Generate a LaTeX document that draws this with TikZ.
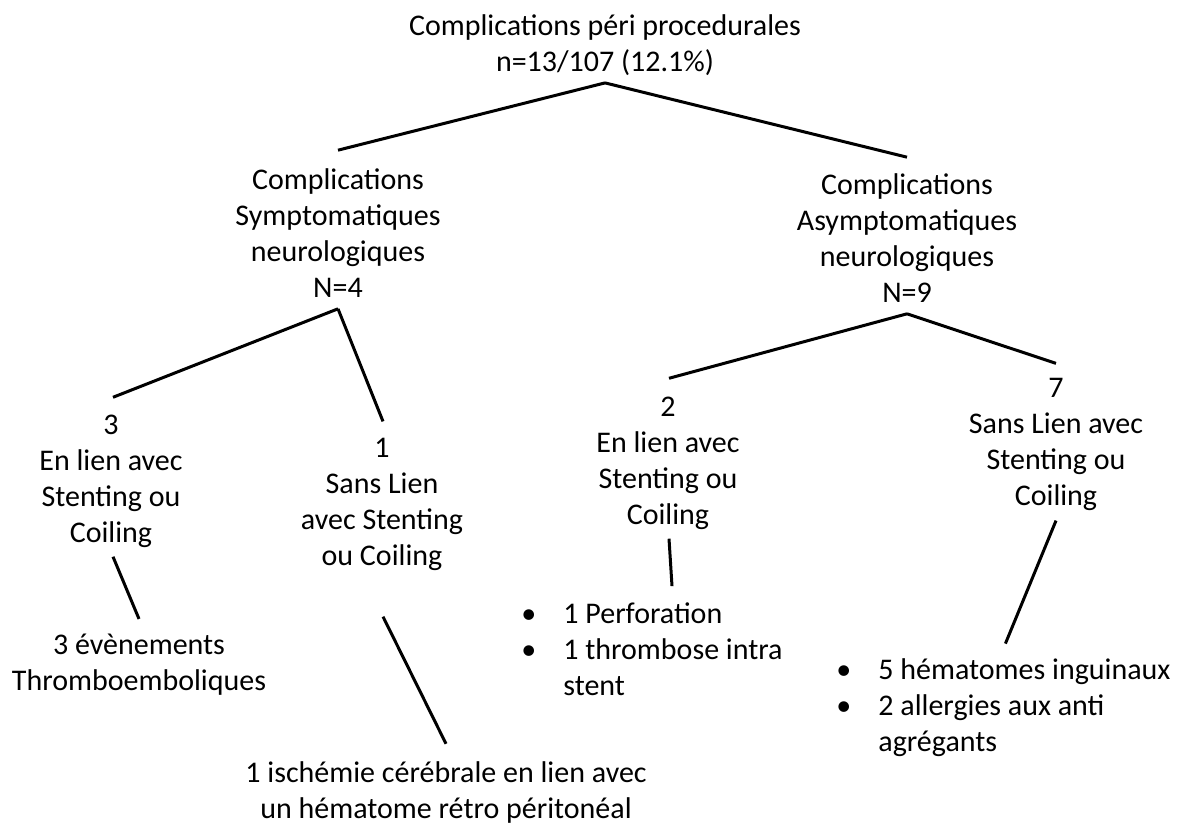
\documentclass[tikz,border=0pt]{standalone}
\usepackage{fontspec}
\setmainfont{Carlito}
\usetikzlibrary{positioning}

\newcommand{\blt}{\makebox[21pt][l]{•}}

\begin{document}
\begin{tikzpicture}[x=0.5pt, y=-0.5pt,
    every node/.style={font=\fontsize{15}{18}\selectfont, inner sep=0pt},
    label/.style={align=center},
    bullets/.style={align=left, anchor=west},
    branch/.style={line width=1.5pt, black}]
\useasboundingbox (0,0) rectangle (1178,823);
% top level
\node[label] (root) at (605,45) {Complications péri procedurales\\n=13/107 (12.1\%)};
% second level
\node[label] (sym) at (338,233) {Complications\\Symptomatiques\\neurologiques\\N=4};
\node[label] (asym) at (907,238) {Complications\\Asymptomatiques\\neurologiques\\N=9};
% third level
\node[label] (lien3) at (111,481) {3\\En lien avec\\Stenting ou\\Coiling};
\node[label] (sans1) at (382,504) {1\\Sans Lien\\avec Stenting\\ou Coiling};
\node[label] (lien2) at (668,463) {2\\En lien avec\\Stenting ou\\Coiling};
\node[label] (sans7) at (1056,444) {7\\Sans Lien avec\\Stenting ou\\Coiling};
% leaves
\node[label] (thrombo) at (139,665) {3 évènements\\Thromboemboliques};
\node[label] (ischemie) at (446,792) {1 ischémie cérébrale en lien avec\\un hématome rétro péritonéal};
\node[bullets] (perf) at (521,649) {\blt 1 Perforation\\\blt 1 thrombose intra\\\hspace*{21pt}stent};
\node[bullets] (hemat) at (836,708) {\blt 5 hématomes inguinaux\\\blt 2 allergies aux anti\\\hspace*{21pt}agrégants};
% branches
\draw[branch] ([yshift=-3.5pt]root.south) -- ([yshift=9pt]sym.north);
\draw[branch] ([yshift=-3.5pt]root.south) -- ([yshift=8pt]asym.north);
\draw[branch] ([yshift=-5.5pt]sym.south) -- ([xshift=1pt,yshift=8.5pt]lien3.north);
\draw[branch] ([yshift=-5.5pt]sym.south) -- ([xshift=0.5pt,yshift=8pt]sans1.north);
\draw[branch] ([yshift=-5.5pt]asym.south) -- ([xshift=0.5pt,yshift=9pt]lien2.north);
\draw[branch] ([yshift=-5.5pt]asym.south) -- ([yshift=7pt]sans7.north);
\draw[branch] ([xshift=1pt,yshift=-4.5pt]lien3.south) -- ([yshift=7.5pt]thrombo.north);
\draw[branch] ([xshift=0.5pt,yshift=-23pt]sans1.south) -- ([yshift=8.5pt]ischemie.north);
\draw[branch] ([xshift=0.5pt,yshift=-4.5pt]lien2.south) -- ([xshift=10pt,yshift=8pt]perf.north);
\draw[branch] ([yshift=-5pt]sans7.south) -- ([xshift=1pt,yshift=7.5pt]hemat.north);
\end{tikzpicture}
\end{document}
